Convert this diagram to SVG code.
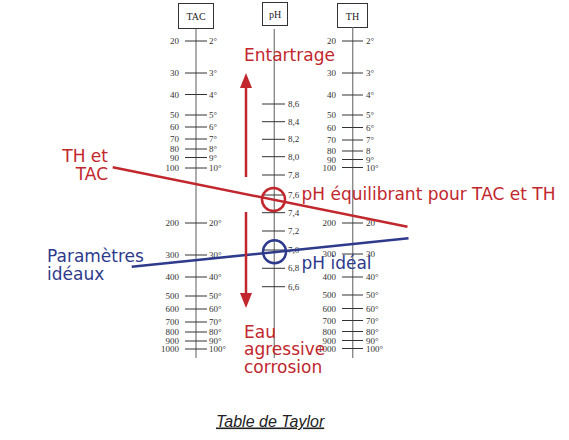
<svg xmlns="http://www.w3.org/2000/svg" width="569" height="440" viewBox="0 0 569 440">
<style>
.bg{fill:#ffffff}
.box{fill:#ffffff;stroke:#333;stroke-width:1}
.hdr{font-family:"Liberation Serif",serif;font-size:10px;fill:#222;text-anchor:middle}
.axis{stroke:#8a8a8a;stroke-width:1.4}
.tick{stroke:#333;stroke-width:1}
.lbl{font-family:"Liberation Serif",serif;font-size:9px;fill:#333}
.l{text-anchor:end}
.red{fill:#c1272d}
.blue{fill:#2e3a8c}
.big{font-family:"DejaVu Sans",sans-serif;font-size:17px}
.rline{stroke:#c1272d;stroke-width:2.5;fill:none}
.bline{stroke:#2e3a8c;stroke-width:2.5;fill:none}
.cap{font-family:"Liberation Sans",sans-serif;font-size:16px;font-style:italic;fill:#222}
</style>
<defs>
<marker id="ah" viewBox="0 0 15 12" markerWidth="15" markerHeight="12" refX="0" refY="6" orient="auto" markerUnits="userSpaceOnUse">
<path d="M0,0 L15,6 L0,12 z" fill="#c1272d"/>
</marker>
</defs>
<rect class="bg" x="0" y="0" width="569" height="440"/>

<g id="scale-tac">
<rect class="box" x="178.5" y="3.5" width="35" height="25"/>
<text class="hdr" x="196" y="20">TAC</text>
<line class="axis" x1="196" y1="29" x2="196" y2="358"/>
<g class="tick">
<line x1="185" y1="41" x2="207" y2="41"/><line x1="185" y1="73" x2="207" y2="73"/><line x1="185" y1="94.5" x2="207" y2="94.5"/><line x1="185" y1="115" x2="207" y2="115"/><line x1="185" y1="127" x2="207" y2="127"/><line x1="185" y1="139" x2="207" y2="139"/><line x1="185" y1="149" x2="207" y2="149"/><line x1="185" y1="157.5" x2="207" y2="157.5"/><line x1="185" y1="168" x2="207" y2="168"/><line x1="185" y1="223" x2="207" y2="223"/><line x1="185" y1="255" x2="207" y2="255"/><line x1="185" y1="277" x2="207" y2="277"/><line x1="185" y1="296" x2="207" y2="296"/><line x1="185" y1="309" x2="207" y2="309"/><line x1="185" y1="322" x2="207" y2="322"/><line x1="185" y1="332" x2="207" y2="332"/><line x1="185" y1="341" x2="207" y2="341"/><line x1="185" y1="349" x2="207" y2="349"/>
</g>
<g class="lbl l">
<text x="179" y="44">20</text><text x="179" y="76">30</text><text x="179" y="97.5">40</text><text x="179" y="118">50</text><text x="179" y="130">60</text><text x="179" y="142">70</text><text x="179" y="152">80</text><text x="179" y="160.5">90</text><text x="179" y="171">100</text><text x="179" y="226">200</text><text x="179" y="258">300</text><text x="179" y="280">400</text><text x="179" y="299">500</text><text x="179" y="312">600</text><text x="179" y="325">700</text><text x="179" y="335">800</text><text x="179" y="344">900</text><text x="179" y="352">1000</text>
</g>
<g class="lbl">
<text x="209" y="44">2°</text><text x="209" y="76">3°</text><text x="209" y="97.5">4°</text><text x="209" y="118">5°</text><text x="209" y="130">6°</text><text x="209" y="142">7°</text><text x="209" y="152">8°</text><text x="209" y="160.5">9°</text><text x="209" y="171">10°</text><text x="209" y="226">20°</text><text x="209" y="258">30°</text><text x="209" y="280">40°</text><text x="209" y="299">50°</text><text x="209" y="312">60°</text><text x="209" y="325">70°</text><text x="209" y="335">80°</text><text x="209" y="344">90°</text><text x="209" y="352">100°</text>
</g>
</g>

<g id="scale-ph">
<rect class="box" x="262.5" y="2.5" width="25" height="23"/>
<text class="hdr" x="275" y="18">pH</text>
<line class="axis" x1="274.3" y1="29" x2="274.3" y2="358"/>
<g class="tick">
<line x1="262" y1="104" x2="285" y2="104"/><line x1="262" y1="121.7" x2="285" y2="121.7"/><line x1="262" y1="139.3" x2="285" y2="139.3"/><line x1="262" y1="156.7" x2="285" y2="156.7"/><line x1="262" y1="175" x2="285" y2="175"/><line x1="262" y1="195" x2="285" y2="195"/><line x1="262" y1="212.7" x2="285" y2="212.7"/><line x1="262" y1="231" x2="285" y2="231"/><line x1="262" y1="250" x2="285" y2="250"/><line x1="262" y1="268.3" x2="285" y2="268.3"/><line x1="262" y1="286.7" x2="285" y2="286.7"/>
</g>
<g class="lbl">
<text x="288" y="107">8,6</text><text x="288" y="124.7">8,4</text><text x="288" y="142.3">8,2</text><text x="288" y="159.7">8,0</text><text x="288" y="178">7,8</text><text x="288" y="198">7,6</text><text x="288" y="215.7">7,4</text><text x="288" y="234">7,2</text><text x="288" y="253">7,0</text><text x="288" y="271.3">6,8</text><text x="288" y="289.7">6,6</text>
</g>
</g>

<g id="scale-th">
<rect class="box" x="337.5" y="3.5" width="30" height="24"/>
<text class="hdr" x="352.5" y="19.5">TH</text>
<line class="axis" x1="352.7" y1="27.5" x2="352.7" y2="358"/>
<g class="tick">
<line x1="342" y1="41" x2="363" y2="41"/><line x1="342" y1="73" x2="363" y2="73"/><line x1="342" y1="95" x2="363" y2="95"/><line x1="342" y1="115" x2="363" y2="115"/><line x1="342" y1="127.5" x2="363" y2="127.5"/><line x1="342" y1="140" x2="363" y2="140"/><line x1="342" y1="151" x2="363" y2="151"/><line x1="342" y1="159.5" x2="363" y2="159.5"/><line x1="342" y1="167.5" x2="363" y2="167.5"/><line x1="342" y1="223" x2="363" y2="223"/><line x1="342" y1="254" x2="363" y2="254"/><line x1="342" y1="277" x2="363" y2="277"/><line x1="342" y1="295" x2="363" y2="295"/><line x1="342" y1="308.5" x2="363" y2="308.5"/><line x1="342" y1="320.5" x2="363" y2="320.5"/><line x1="342" y1="331.5" x2="363" y2="331.5"/><line x1="342" y1="340.5" x2="363" y2="340.5"/><line x1="342" y1="348.5" x2="363" y2="348.5"/>
</g>
<g class="lbl l">
<text x="336" y="44">20</text><text x="336" y="76">30</text><text x="336" y="98">40</text><text x="336" y="118">50</text><text x="336" y="130.5">60</text><text x="336" y="143">70</text><text x="336" y="154">80</text><text x="336" y="162.5">90</text><text x="336" y="170.5">100</text><text x="336" y="226">200</text><text x="336" y="257">300</text><text x="336" y="280">400</text><text x="336" y="298">500</text><text x="336" y="311.5">600</text><text x="336" y="323.5">700</text><text x="336" y="334.5">800</text><text x="336" y="343.5">900</text><text x="336" y="351.5">1000</text>
</g>
<g class="lbl">
<text x="366" y="44">2°</text><text x="366" y="76">3°</text><text x="366" y="98">4°</text><text x="366" y="118">5°</text><text x="366" y="130.5">6°</text><text x="366" y="143">7°</text><text x="366" y="154">8</text><text x="366" y="162.5">9°</text><text x="366" y="170.5">10°</text><text x="366" y="226">20</text><text x="366" y="257">30</text><text x="366" y="280">40°</text><text x="366" y="298">50°</text><text x="366" y="311.5">60°</text><text x="366" y="323.5">70°</text><text x="366" y="334.5">80°</text><text x="366" y="343.5">90°</text><text x="366" y="351.5">100°</text>
</g>
</g>

<g id="connectors">
<line class="rline" x1="112.7" y1="167.3" x2="407.5" y2="226.7"/>
<line class="bline" x1="131.7" y1="266.7" x2="408.5" y2="238.3"/>
<circle class="rline" cx="273.5" cy="199.5" r="11.5"/>
<circle class="bline" cx="274.5" cy="251.7" r="11.5"/>
<line class="rline" x1="246" y1="177" x2="246" y2="88" marker-end="url(#ah)"/>
<line class="rline" x1="246" y1="212" x2="246" y2="293" marker-end="url(#ah)"/>
</g>

<g id="labels">
<text class="big red" x="244" y="60.5">Entartrage</text>
<text class="big red" x="108" y="161.5" text-anchor="end">TH et</text>
<text class="big red" x="108" y="179.5" text-anchor="end">TAC</text>
<text class="big red" x="301.5" y="200">pH équilibrant pour TAC et TH</text>
<text class="big blue" x="47" y="262">Paramètres</text>
<text class="big blue" x="47" y="280">idéaux</text>
<text class="big blue" x="301.5" y="268.5">pH idéal</text>
<text class="big red" x="244" y="337.5">Eau</text>
<text class="big red" x="244" y="355">agressive</text>
<text class="big red" x="244" y="372.5">corrosion</text>
<text class="cap" x="216" y="426.5" text-decoration="underline">Table de Taylor</text>
</g>
</svg>
